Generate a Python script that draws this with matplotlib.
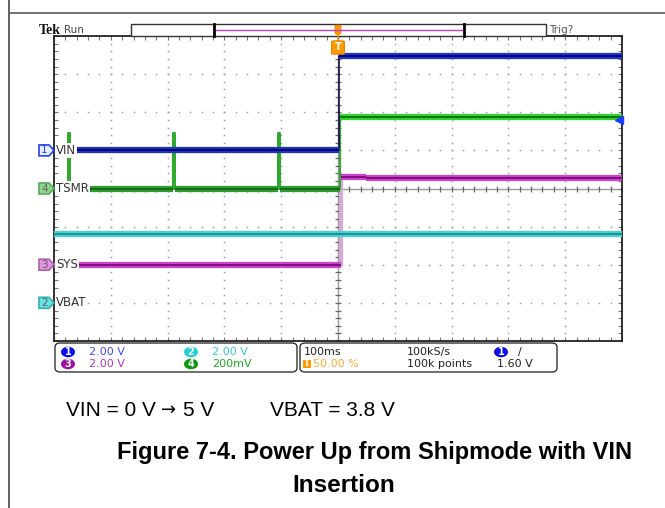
import numpy as np
import matplotlib.pyplot as plt
from matplotlib import font_manager as fm
from matplotlib.patches import Polygon, Rectangle, FancyBboxPatch, Ellipse
from matplotlib.lines import Line2D

# --- scope settings / values ---
time_div_ms = 100.0
vin_scale, vin_offset = 2.0, 1.0        # V/div, div
tsmr_scale, tsmr_offset = 0.2, 0.0
sys_scale, sys_offset = 2.0, -2.0
vbat_scale, vbat_offset = 2.0, -3.0

vin_t = [-500, 2, 2, 500]
vin_v = [0.0, 0.0, 4.95, 4.95]

tsmr_spike_ms = [-475, -290, -105]
tsmr_spike_v = 0.29
tsmr_after_v = 0.375
tsmr_step_ms = 3

sys_t = [-500, 5, 5, 50, 50, 500]
sys_v = [0.0, 0.0, 4.6, 4.6, 4.55, 4.55]

vbat_t = [-500, 500]
vbat_v = [3.62, 3.62]

ch_labels = ["VIN", "TSMR", "SYS", "VBAT"]

names = {f.name for f in fm.fontManager.ttflist}
NARROW = 'Liberation Sans Narrow' if 'Liberation Sans Narrow' in names else 'DejaVu Sans'

W, H = 665, 508
fig = plt.figure(figsize=(W / 100, H / 100), dpi=100)


def fx(x):
    return x / W


def fy(y):
    return 1 - y / H


def ptxt(x, y, s, **kw):
    fig.text(fx(x), fy(y), s, **kw)


# page frame
fig.add_artist(Line2D([fx(9), fx(9)], [fy(0), fy(508)], color='#555555', lw=1.3))
fig.add_artist(Line2D([fx(9), fx(665)], [fy(13), fy(13)], color='#666666', lw=1.3))

# --- graticule ---
ax = fig.add_axes([fx(54), fy(341), (622 - 54) / W, (341 - 36) / H])
ax.set_xlim(-5 * time_div_ms, 5 * time_div_ms)
ax.set_ylim(-4, 4)
for sp in ax.spines.values():
    sp.set_color('#222222')
    sp.set_linewidth(1.3)
ax.set_xticks(np.arange(-500, 501, 20))
ax.set_yticks(np.arange(-4, 4.01, 0.2))
ax.tick_params(direction='in', length=3, width=0.8, color='#777777',
               top=True, right=True, labelbottom=False, labelleft=False)

dots_y = np.arange(-4, 4.01, 0.2)
for xv in np.arange(-400, 401, 100):
    if xv != 0:
        ax.plot(np.full_like(dots_y, xv), dots_y, ls='none', marker='s', ms=1.1,
                mec='none', mfc='#a0a0a0', zorder=1)
dots_x = np.arange(-500, 501, 20)
for yv in range(-3, 4):
    if yv != 0:
        ax.plot(dots_x, np.full_like(dots_x, yv, dtype=float), ls='none', marker='s',
                ms=1.1, mec='none', mfc='#a0a0a0', zorder=1)
ax.axhline(0, color='#999999', lw=1, zorder=1)
ax.axvline(0, color='#999999', lw=1, zorder=1)
ax.plot(dots_x, np.zeros_like(dots_x, dtype=float), ls='none', marker='|', ms=4,
        mew=0.9, color='#666666', zorder=1)
ax.plot(np.zeros_like(dots_y), dots_y, ls='none', marker='_', ms=4,
        mew=0.9, color='#666666', zorder=1)

# --- traces ---
tsmr_t = [-500]
tsmr_v = [0.0]
for s in tsmr_spike_ms:
    tsmr_t += [s, s, s + 3, s + 3]
    tsmr_v += [0.0, tsmr_spike_v, tsmr_spike_v, 0.0]
tsmr_t += [tsmr_step_ms, tsmr_step_ms, 500]
tsmr_v += [0.0, tsmr_after_v, tsmr_after_v]


def trace(t, v, scale, off, bands, core, z, edge_col, edge_lw=1.2):
    y = off + np.array(v) / scale
    # vertical edges: thin
    ax.plot(t, y, color=edge_col, lw=edge_lw, zorder=z)
    # flat levels: thick band + darker core
    for i in range(len(t) - 1):
        if y[i] == y[i + 1] and t[i + 1] - t[i] > 5:
            wide = bands[0] if t[i] < 0 else bands[1]
            ax.plot([t[i], t[i + 1]], [y[i], y[i]], color=wide, lw=4.5,
                    solid_capstyle='butt', zorder=z + 0.1)
            ax.plot([t[i], t[i + 1]], [y[i], y[i]], color=core, lw=1.3,
                    solid_capstyle='butt', zorder=z + 0.2)


trace(vbat_t, vbat_v, vbat_scale, vbat_offset, ('#45d2d2', '#45d2d2'), '#1a8a8a', 3,
      '#1a8a8a')
trace(sys_t, sys_v, sys_scale, sys_offset, ('#c944c9', '#c944c9'), '#7a0a7a', 3,
      '#d8a8d8', 3)
trace(tsmr_t, tsmr_v, tsmr_scale, tsmr_offset, ('#2f9a2f', '#2ed42e'), '#116a11', 4,
      '#2aa82a', 1.4)
trace(vin_t, vin_v, vin_scale, vin_offset, ('#1a35b8', '#1a35c8'), '#000070', 5,
      '#101040', 1.2)

# trigger level arrow on the right
ax.plot([494], [vin_offset + 1.60 / vin_scale], marker='<', ms=6, color='#1a3cff',
        clip_on=False, zorder=6)

# --- channel markers and labels ---
markers = [
    ('1', vin_offset, '#e8ecff', '#2244ee', '#2244ee'),
    ('4', tsmr_offset, '#8fd48f', '#55aa55', '#666666'),
    ('3', sys_offset, '#d99ad9', '#b060b0', '#7a4a7a'),
    ('2', vbat_offset, '#6ee0e0', '#33b0b0', '#446666'),
]
for (num, off, fc, ec, tc), lab in zip(markers, ch_labels):
    yp = 188.5 - off * 38.1
    pts = [(fx(39), fy(yp - 5.5)), (fx(49), fy(yp - 5.5)), (fx(54), fy(yp)),
           (fx(49), fy(yp + 5.5)), (fx(39), fy(yp + 5.5))]
    fig.add_artist(Polygon(pts, closed=True, fc=fc, ec=ec, lw=1.2))
    ptxt(44.5, yp, num, ha='center', va='center', fontsize=7.5, color=tc,
         family=NARROW)
    ptxt(56, yp, lab, ha='left', va='center', fontsize=8.5, color='#333333',
         family=NARROW, zorder=10,
         bbox=dict(fc='white', ec='none', pad=0.6))

# --- top status bar ---
ptxt(39, 30, 'Tek', ha='left', va='center', fontsize=10, fontweight='bold',
     family='Liberation Serif', color='#111111')
ptxt(64, 30, 'Run', ha='left', va='center', fontsize=7.5, family=NARROW,
     color='#444444')
fig.add_artist(Rectangle((fx(131), fy(36)), (546 - 131) / W, 12 / H, fc='white',
                         ec='#333333', lw=1))
fig.add_artist(Line2D([fx(214), fx(214)], [fy(24), fy(36)], color='black', lw=2))
fig.add_artist(Line2D([fx(464), fx(464)], [fy(24), fy(36)], color='black', lw=2))
fig.add_artist(Line2D([fx(216), fx(462)], [fy(29.5), fy(29.5)], color='#c040c0', lw=1))
ptxt(549, 30, 'Trig?', ha='left', va='center', fontsize=7.5, family=NARROW,
     color='#555555')
# trigger position markers
fig.add_artist(FancyBboxPatch((fx(336), fy(33)), 4 / W, 7 / H,
                              boxstyle='round,pad=0.001', fc='#ff9900', ec='#ee8800'))
fig.add_artist(Polygon([(fx(335.5), fy(33)), (fx(340.5), fy(33)), (fx(338), fy(38))],
                       fc='#ff9900', ec='none'))
fig.add_artist(Polygon([(fx(335), fy(42)), (fx(341), fy(42)), (fx(338), fy(38.5))],
                       fc='#ff9900', ec='none'))
fig.add_artist(FancyBboxPatch((fx(333), fy(53)), 10 / W, 11 / H,
                              boxstyle='round,pad=0.002', fc='#ff9900', ec='#ee8800'))
ptxt(338, 47.5, 'T', ha='center', va='center', fontsize=7, color='white',
     fontweight='bold')

# --- info panel ---
for x0, x1 in [(55, 297), (300, 557)]:
    fig.add_artist(FancyBboxPatch((fx(x0), fy(372)), (x1 - x0) / W, 29 / H,
                                  boxstyle='round,pad=0,rounding_size=0.008',
                                  fc='white', ec='#333333', lw=1))

chan_info = [
    ('1', 68, 352, '#0a0af0', '2.00 V', '#4444ff'),
    ('3', 68, 364, '#a010a0', '2.00 V', '#bb33bb'),
    ('2', 191, 352, '#22d0d0', '2.00 V', '#33cccc'),
    ('4', 191, 364, '#0a990a', '200mV', '#22aa22'),
]
for num, xc, yc, cc, txt, tc in chan_info:
    fig.add_artist(Ellipse((fx(xc), fy(yc)), 14 / W, 10.5 / H, fc=cc, ec='none'))
    ptxt(xc, yc, num, ha='center', va='center', fontsize=7, color='white',
         fontweight='bold')
    ptxt(xc + 21, yc, txt, ha='left', va='center', fontsize=8, color=tc, family=NARROW)

ptxt(304, 352, '100ms', ha='left', va='center', fontsize=8, family=NARROW, color='#222222')
ptxt(407, 352, '100kS/s', ha='left', va='center', fontsize=8, family=NARROW, color='#222222')
ptxt(407, 364, '100k points', ha='left', va='center', fontsize=8, family=NARROW,
     color='#222222')
fig.add_artist(Ellipse((fx(501), fy(352)), 14 / W, 10.5 / H, fc='#0a0af0', ec='none'))
ptxt(501, 352, '1', ha='center', va='center', fontsize=7, color='white', fontweight='bold')
ptxt(518, 352, '/', ha='left', va='center', fontsize=8, family=NARROW, color='#222222')
ptxt(497, 364, '1.60 V', ha='left', va='center', fontsize=8, family=NARROW, color='#222222')
fig.add_artist(Rectangle((fx(303), fy(368)), 8 / W, 8 / H, fc='#ff9900', ec='none'))
ptxt(307, 364, 'T', ha='center', va='center', fontsize=6, color='white', fontweight='bold')
ptxt(313, 364, '50.00 %', ha='left', va='center', fontsize=8, family=NARROW,
     color='#ffaa33')

# --- caption ---
SANS = ['Liberation Sans', 'DejaVu Sans']
ptxt(66, 410, 'VIN = 0 V', ha='left', va='center', fontsize=15,
     family=SANS, color='black')
ptxt(161, 410, '\u2192', ha='left', va='center', fontsize=13,
     family='DejaVu Sans', color='black')
ptxt(183, 410, '5 V', ha='left', va='center', fontsize=15,
     family=SANS, color='black')
ptxt(270, 410, 'VBAT = 3.8 V', ha='left', va='center', fontsize=15,
     family=SANS, color='black')
ptxt(375, 453, 'Figure 7-4. Power Up from Shipmode with VIN', ha='center', va='center',
     fontsize=17, fontweight='bold', family=SANS, color='black')
ptxt(344, 486, 'Insertion', ha='center', va='center',
     fontsize=17.5, fontweight='bold', family=SANS, color='black')

fig.savefig('out.png', dpi=100)
